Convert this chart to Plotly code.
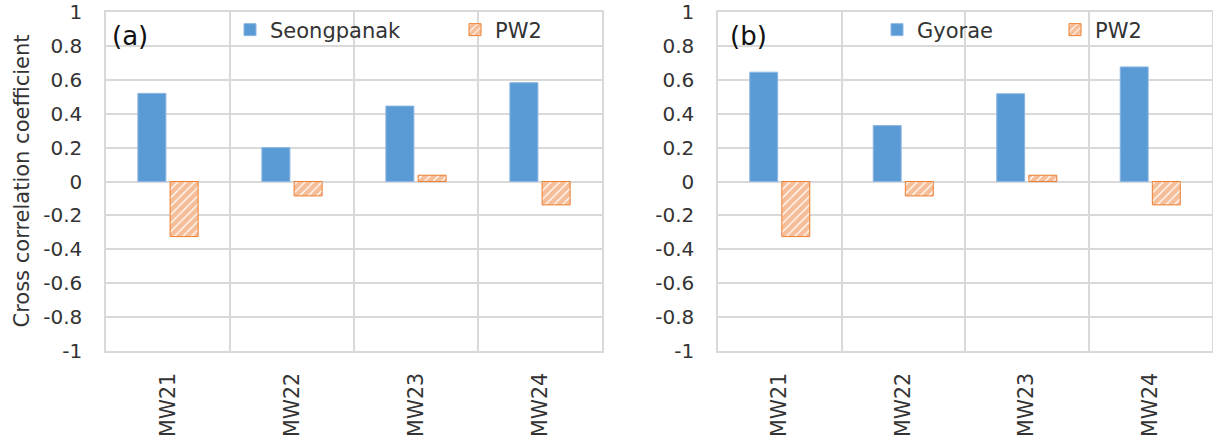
import plotly.graph_objects as go

# ---- data ----
categories = ["MW21", "MW22", "MW23", "MW24"]
seongpanak = [0.52, 0.20, 0.445, 0.583]
gyorae = [0.645, 0.33, 0.518, 0.676]
pw2_a = [-0.325, -0.085, 0.037, -0.138]
pw2_b = [-0.325, -0.085, 0.037, -0.138]
ytick_vals = [1, 0.8, 0.6, 0.4, 0.2, 0, -0.2, -0.4, -0.6, -0.8, -1]
ytick_text = ["1", "0.8", "0.6", "0.4", "0.2", "0", "-0.2", "-0.4", "-0.6", "-0.8", "-1"]
panel_labels = ["(a)", "(b)"]
y_title = "Cross correlation coefficient"

BLUE = "#5B9BD5"
ORANGE = "#ED7D31"
GRID = "#D9D9D9"
TXT = "#333333"
FONT = "DejaVu Sans"

W, H = 1213, 439
ML, MR, MT, MB = 106, 1, 12, 88
PW = W - ML - MR
PH = H - MT - MB


def px_x(p):
    return (p - ML) / PW


def px_y(p):
    return (H - MB - p) / PH


fig = go.Figure()

hatch = dict(shape="/", fgcolor=ORANGE, bgcolor="white", size=6, solidity=0.8)
blue_marker = dict(color=BLUE, line=dict(color="#8DB6E2", width=1))
orange_marker = dict(color=ORANGE, pattern=hatch, line=dict(color=ORANGE, width=1))

fig.add_trace(go.Bar(x=categories, y=seongpanak, name="Seongpanak", xaxis="x", yaxis="y",
                     marker=blue_marker, legend="legend"))
fig.add_trace(go.Bar(x=categories, y=pw2_a, name="PW2", xaxis="x", yaxis="y",
                     marker=orange_marker, legend="legend2"))
fig.add_trace(go.Bar(x=categories, y=gyorae, name="Gyorae", xaxis="x2", yaxis="y2",
                     marker=blue_marker, legend="legend3"))
fig.add_trace(go.Bar(x=categories, y=pw2_b, name="PW2", xaxis="x2", yaxis="y2",
                     marker=orange_marker, legend="legend4"))

xax = dict(type="category", tickson="boundaries", showgrid=True, gridcolor=GRID, gridwidth=1.5,
           showline=True, mirror=True, linecolor=GRID, linewidth=1.5, automargin=False,
           ticks="", ticklabelstandoff=12, tickangle=-90,
           tickfont=dict(family=FONT, size=20.5, color=TXT), fixedrange=True)
yax = dict(range=[-1, 1], tickvals=ytick_vals, ticktext=ytick_text, showgrid=True,
           gridcolor=GRID, gridwidth=1.5, zeroline=False, automargin=False,
           showline=True, mirror=True, linecolor=GRID, linewidth=1.5,
           ticks="outside", ticklen=18, tickcolor="rgba(0,0,0,0)",
           tickfont=dict(family=FONT, size=20, color=TXT), fixedrange=True)

leg_common = dict(orientation="h", xref="paper", yref="paper", xanchor="left", yanchor="middle",
                  bgcolor="rgba(0,0,0,0)", borderwidth=0,
                  font=dict(family=FONT, size=21, color=TXT))

fig.update_layout(
    width=W, height=H,
    margin=dict(l=ML, r=MR, t=MT, b=MB, pad=0),
    paper_bgcolor="white", plot_bgcolor="white",
    barmode="group", bargap=0.48, bargroupgap=0.13,
    xaxis=dict(domain=[0, px_x(602)], anchor="y", **xax),
    yaxis=dict(domain=[0, 1], anchor="x", **yax),
    xaxis2=dict(domain=[px_x(718), 1], anchor="y2", **xax),
    yaxis2=dict(domain=[0, 1], anchor="x2", **yax),
    legend=dict(x=px_x(230), y=px_y(30), **leg_common),
    legend2=dict(x=px_x(455), y=px_y(30), **leg_common),
    legend3=dict(x=px_x(877), y=px_y(30), **leg_common),
    legend4=dict(x=px_x(1055), y=px_y(30), **leg_common),
    showlegend=True,
)

fig.add_annotation(x=px_x(110), y=px_y(36), xref="paper", yref="paper", text=panel_labels[0],
                   showarrow=False, xanchor="left", yanchor="middle",
                   font=dict(family=FONT, size=26, color="#111111"))
fig.add_annotation(x=px_x(728), y=px_y(36), xref="paper", yref="paper", text=panel_labels[1],
                   showarrow=False, xanchor="left", yanchor="middle",
                   font=dict(family=FONT, size=26, color="#111111"))
fig.add_annotation(x=px_x(21), y=0.5, xref="paper", yref="paper", text=y_title,
                   showarrow=False, textangle=-90, xanchor="center", yanchor="middle",
                   font=dict(family=FONT, size=21, color=TXT))

fig.write_html("out.html", config={"displayModeBar": False},
               post_script="document.body.style.margin='0';")
